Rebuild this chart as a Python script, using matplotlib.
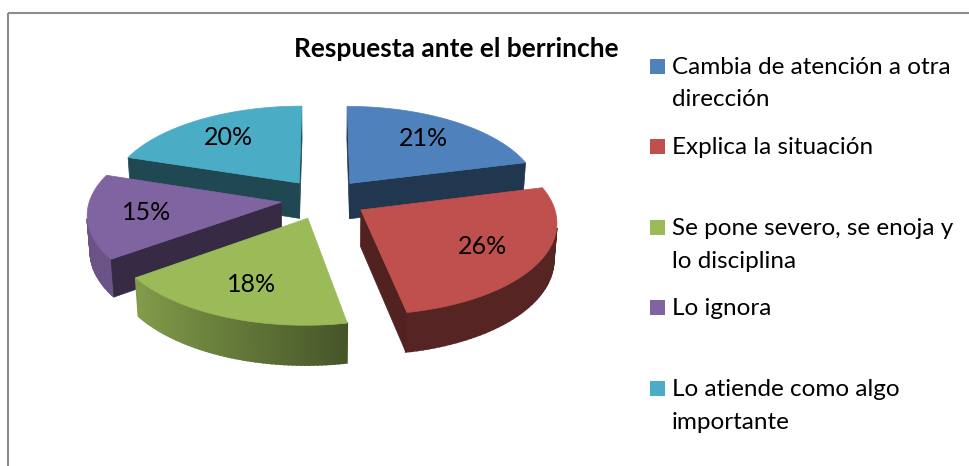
#Gráfico de torta 3D: Respuesta ante el berrinche
import numpy as np
import matplotlib.pyplot as plt
import matplotlib.colors as mcolors
from matplotlib.patches import Polygon, Rectangle

plt.rcParams['font.family'] = ['Lato', 'DejaVu Sans']

#Datos
titulo = 'Respuesta ante el berrinche'
categorias = ['Cambia de atención a otra\ndirección',
              'Explica la situación',
              'Se pone severo, se enoja y\nlo disciplina',
              'Lo ignora',
              'Lo atiende como algo\nimportante']
valores = [21, 26, 18, 15, 20]
colores = ['#4F81BD', '#C0504D', '#9BBB59', '#8064A2', '#4BACC6']

#Vista 3D (perspectiva sencilla)
CX, CY = 324, 199          #centro de la torta en pixeles
F, D = 1435, 7.5           #focal y distancia de la camara
elev = np.radians(27.9)
ce, se = np.cos(elev), np.sin(elev)
H = 0.215                  #grosor de la torta
EXPL = 0.225               #separacion de las porciones
camara = np.array([0, -D*ce, D*se])


def proyectar(x, y, z=0.0):
    zc = y*ce - z*se + D
    return CX + F*x/zc, CY - F*(y*se + z*ce)/zc


def oscurecer(color, f):
    r, g, b = mcolors.to_rgb(color)
    return (r*f, g*f, b*f)


fig = plt.figure(figsize=(9.69, 4.66), dpi=100)
ax = fig.add_axes([0, 0, 1, 1])
ax.set_xlim(0, 969)
ax.set_ylim(466, 0)
ax.axis('off')

#Marco
ax.add_patch(Rectangle((8, 12.5), 1200, 600, fill=False, ec='#8C8C8C', lw=1.5))

#Porciones ordenadas de atras hacia adelante
limites = np.cumsum([0] + valores) / sum(valores) * 2*np.pi
porciones = []
for i in range(len(valores)):
    t1, t2 = limites[i], limites[i+1]
    tm = (t1 + t2) / 2
    ox, oy = EXPL*np.sin(tm), EXPL*np.cos(tm)
    prof = (oy + 0.5*np.cos(tm))*ce + D
    porciones.append((prof, i, t1, t2, tm, ox, oy))
porciones.sort(reverse=True)

z = 2
for prof, i, t1, t2, tm, ox, oy in porciones:
    col = colores[i]
    arco = np.linspace(t1, t2, 60)

    #superficie exterior (solo lo visible)
    for a, b in zip(arco[:-1], arco[1:]):
        am = (a + b) / 2
        n = np.array([np.sin(am), np.cos(am), 0])
        p = np.array([ox + np.sin(am), oy + np.cos(am), 0])
        if n @ (camara - p) <= 0:
            continue
        f = 0.45 + 0.38*np.clip(-np.sin(am) + 0.2, 0, 1)
        c = oscurecer(col, f)
        pts = [proyectar(ox + np.sin(a), oy + np.cos(a)),
               proyectar(ox + np.sin(b), oy + np.cos(b)),
               proyectar(ox + np.sin(b), oy + np.cos(b), -H),
               proyectar(ox + np.sin(a), oy + np.cos(a), -H)]
        ax.add_patch(Polygon(pts, closed=True, fc=c, ec=c, lw=1.2, zorder=z))

    #paredes radiales
    for t, signo in ((t1, -1), (t2, 1)):
        n = signo*np.array([np.cos(t), -np.sin(t), 0])
        if n @ (camara - np.array([ox, oy, 0])) <= 0:
            continue
        c = oscurecer(col, 0.42)
        pts = [proyectar(ox, oy),
               proyectar(ox + np.sin(t), oy + np.cos(t)),
               proyectar(ox + np.sin(t), oy + np.cos(t), -H),
               proyectar(ox, oy, -H)]
        ax.add_patch(Polygon(pts, closed=True, fc=c, ec=c, lw=0.5, zorder=z+1))

    #cara superior
    pts = [proyectar(ox, oy)] + [proyectar(ox + np.sin(a), oy + np.cos(a)) for a in arco]
    ax.add_patch(Polygon(pts, closed=True, fc=col, ec=col, lw=0.5, zorder=z+2))

    #etiqueta de porcentaje
    lx, ly = proyectar(ox + 0.7*np.sin(tm), oy + 0.7*np.cos(tm))
    ax.text(lx, ly, f'{valores[i]}%', fontsize=18, ha='center', va='center', zorder=50)
    z += 3

#Titulo
ax.text(456, 56.7, titulo, fontsize=19, fontweight='bold', ha='center', va='baseline')

#Leyenda
for i, etiqueta in enumerate(categorias):
    base = 73.5 + i*80.6
    ax.add_patch(Rectangle((650, base - 15), 15, 15, fc=colores[i], ec='none'))
    for k, linea in enumerate(etiqueta.split('\n')):
        ax.text(672, base + k*33, linea, fontsize=17.5, ha='left', va='baseline')

plt.savefig('out.png', dpi=100)
